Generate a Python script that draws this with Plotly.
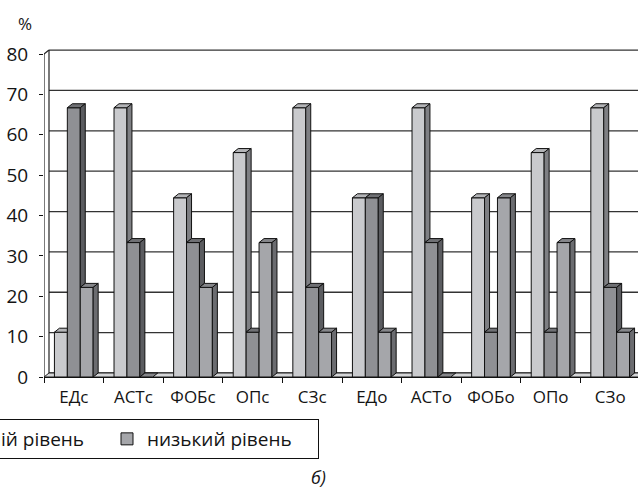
import plotly.graph_objects as go

categories = ["ЕДс", "АСТс", "ФОБс", "ОПс", "СЗс", "ЕДо", "АСТо", "ФОБо", "ОПо", "СЗо"]
series_names = ["високий рівень", "середній рівень", "низький рівень"]
high = [11.1, 66.7, 44.4, 55.6, 66.7, 44.4, 66.7, 44.4, 55.6, 66.7]
mid = [66.7, 33.3, 33.3, 11.1, 22.2, 44.4, 33.3, 11.1, 11.1, 22.2]
low = [22.2, 0.0, 22.2, 33.3, 11.1, 11.1, 0.0, 44.4, 33.3, 11.1]
y_ticks = [0, 10, 20, 30, 40, 50, 60, 70, 80]

series = [high, mid, low]
front_colors = ["#c9cacd", "#8f9094", "#a5a6aa"]
top_colors = ["#b3b4b7", "#6f7074", "#85868a"]
side_colors = ["#7e7f83", "#5b5c60", "#6b6c70"]

FONT = "Open Sans"
TXT = "#141414"
W, H = 638, 494
ML, MR, MT, MB = 44, 0, 48, 117
plot_w = W - ML - MR
plot_h = H - MB - MT
cat_px = 59.6
x_lo = -0.5
x_hi = x_lo + plot_w / cat_px
y_lo, y_hi = 0, 81.5
px_per_unit = plot_h / (y_hi - y_lo)

DX = 5 / cat_px          # depth offset in category units
DY = 4 / px_per_unit     # depth offset in value units
BARGAP = 0.35
n = len(series)
bw = (1 - BARGAP) / n

fig = go.Figure()

for s in range(n):
    fig.add_trace(go.Bar(
        x=list(range(len(categories))), y=series[s], name=series_names[s],
        marker=dict(color=front_colors[s], line=dict(color="#111111", width=1)),
        hoverinfo="skip",
    ))

# 3D faces (top and side) computed from data values
for i in range(len(categories)):
    for s in range(n):
        v = series[s][i]
        x0 = i - (1 - BARGAP) / 2 + s * bw
        x1 = x0 + bw
        nxt = series[s + 1][i] if s + 1 < n else None
        if nxt is not None and nxt > v:
            tx = [x0, x0 + DX, x1, x1, x0]
        else:
            tx = [x0, x0 + DX, x1 + DX, x1, x0]
        ty = [v, v + DY, v + DY, v, v]
        fig.add_trace(go.Scatter(x=tx, y=ty, mode="lines", fill="toself",
                                 fillcolor=top_colors[s],
                                 line=dict(color="#111111", width=1),
                                 showlegend=False, hoverinfo="skip"))
        base = 0 if nxt is None else nxt
        if v > base:
            sx = [x1, x1 + DX, x1 + DX, x1, x1]
            sy = [base, base + DY, v + DY, v, base]
            fig.add_trace(go.Scatter(x=sx, y=sy, mode="lines", fill="toself",
                                     fillcolor=side_colors[s],
                                     line=dict(color="#111111", width=1),
                                     showlegend=False, hoverinfo="skip"))

shapes = []
for t in y_ticks:
    shapes.append(dict(type="line", xref="x", yref="y", x0=x_lo + DX, x1=x_hi + 1,
                       y0=t + DY, y1=t + DY, line=dict(color="#333333", width=1.3),
                       layer="below"))
shapes.append(dict(type="path", xref="x", yref="y",
                   path=f"M {x_lo},0 L {x_lo + DX},{DY} L {x_hi + 1},{DY} L {x_hi + 1},0 Z",
                   fillcolor="#d4d5d7", line=dict(color="#222222", width=1), layer="below"))
shapes.append(dict(type="line", xref="x", yref="y", x0=x_lo + DX, x1=x_lo + DX,
                   y0=DY, y1=y_ticks[-1] + DY, line=dict(color="#222222", width=1.2)))
shapes.append(dict(type="line", xref="x", yref="y", x0=x_lo, x1=x_lo,
                   y0=0, y1=y_ticks[-1], line=dict(color="#222222", width=1.2)))
shapes.append(dict(type="line", xref="x", yref="y", x0=x_lo, x1=x_lo + DX,
                   y0=y_ticks[-1], y1=y_ticks[-1] + DY, line=dict(color="#222222", width=1.2)))

ENTRY_W = 166
LEG_W = 3 * (ENTRY_W + 40) + 16
LEG_RIGHT, LEG_TOP = 318, 419
LEG_LEFT = LEG_RIGHT - LEG_W

fig.update_layout(
    width=W, height=H,
    margin=dict(l=ML, r=MR, t=MT, b=MB, pad=0, autoexpand=False),
    paper_bgcolor="white", plot_bgcolor="white",
    barmode="group", bargap=BARGAP, bargroupgap=0,
    font=dict(family=FONT, color=TXT),
    shapes=shapes,
    xaxis=dict(range=[x_lo, x_hi], tickvals=list(range(len(categories))), ticktext=categories,
               ticks="", showgrid=False, zeroline=False, showline=True,
               linecolor="#111111", linewidth=1.2,
               tickfont=dict(size=17, family=FONT, color=TXT),
               ticklabelstandoff=4,
               minor=dict(tickvals=[k - 0.5 for k in range(len(categories) + 1)],
                          ticks="outside", ticklen=5, tickcolor="#111111", tickwidth=1.2,
                          showgrid=False)),
    yaxis=dict(range=[y_lo, y_hi], tickvals=y_ticks, ticks="outside", ticklen=4,
               tickcolor="#111111", tickwidth=1.2, showgrid=False, zeroline=False,
               showline=False, tickfont=dict(size=19, family=FONT, color=TXT),
               ticklabelstandoff=7),
    legend=dict(orientation="h", x=(LEG_LEFT - ML) / plot_w, xanchor="left",
                y=(H - MB - LEG_TOP) / plot_h, yanchor="top",
                bordercolor="#111111", borderwidth=1, bgcolor="white",
                font=dict(size=19, family=FONT, color=TXT),
                entrywidth=ENTRY_W, entrywidthmode="pixels",
                traceorder="normal"),
    annotations=[
        dict(text="%", xref="paper", yref="paper", x=(25 - ML) / plot_w,
             y=(H - MB - 24) / plot_h, xanchor="center", yanchor="middle", showarrow=False,
             font=dict(size=17, family=FONT, color=TXT)),
        dict(text="<i>б)</i>", xref="paper", yref="paper", x=(318 - ML) / plot_w,
             y=(H - MB - 477) / plot_h, xanchor="center", yanchor="middle", showarrow=False,
             font=dict(size=18, family=FONT, color=TXT)),
    ],
)

fig.write_html("out.html", config={"displayModeBar": False},
               post_script="document.body.style.margin='0';document.body.style.overflow='hidden';")
